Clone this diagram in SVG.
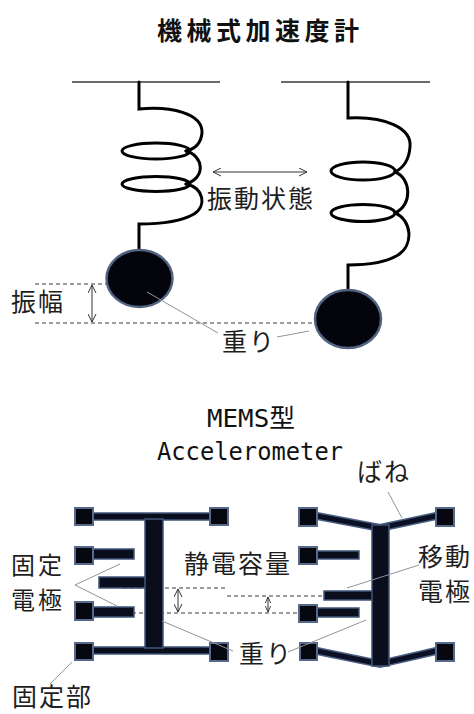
<svg xmlns="http://www.w3.org/2000/svg" width="474" height="714" viewBox="0 0 474 714">
  <style>
    .jp { font-family: "Noto Sans CJK JP", "Noto Sans CJK SC", sans-serif; fill: #1e1e1e; }
    .lbl { font-size: 25px; letter-spacing: 2px; }
    .lblSm { font-size: 24px; letter-spacing: 3px; }
    .title { font-size: 25px; font-weight: bold; letter-spacing: 4.5px; fill: #111; }
    .mono { font-family: "DejaVu Sans Mono", "Noto Sans CJK JP", monospace; font-size: 25px; fill: #111; }
    .ceiling { stroke: #3a3a3a; stroke-width: 1.3; fill: none; }
    .coil { stroke: #000; stroke-width: 3; fill: none; stroke-linecap: round; }
    .ball { fill: #04040c; stroke: #506482; stroke-width: 2.5; }
    .pad { fill: #07080f; stroke: #55698a; stroke-width: 2; }
    .beam { fill: #0a0d1c; stroke: #42567a; stroke-width: 1.5; }
    .armOuter { stroke: #4a5e82; stroke-width: 8; fill: none; stroke-linecap: butt; }
    .armInner { stroke: #0b1024; stroke-width: 5; fill: none; stroke-linecap: butt; }
    .leader { stroke: #8e949c; stroke-width: 1; fill: none; }
    .dash { stroke: #3a3a3a; stroke-width: 1; stroke-dasharray: 4 3; fill: none; }
    .dim { stroke: #333; stroke-width: 1; fill: none; }
  </style>
  <defs>
    <marker id="chevron" viewBox="0 0 10 10" refX="9" refY="5" markerWidth="9" markerHeight="9" markerUnits="userSpaceOnUse" orient="auto-start-reverse">
      <path d="M0,0.5 L9,5 L0,9.5" fill="none" stroke="#333" stroke-width="1.1"/>
    </marker>
    <marker id="chevronSmall" viewBox="0 0 10 10" refX="9" refY="5" markerWidth="7" markerHeight="7" markerUnits="userSpaceOnUse" orient="auto-start-reverse">
      <path d="M0,1 L9,5 L0,9" fill="none" stroke="#333" stroke-width="1.3"/>
    </marker>
  </defs>

  <rect width="474" height="714" fill="#fff"/>

  <!-- headings -->
  <g id="title-mechanical">
    <text class="jp title" x="157" y="40">機械式加速度計</text>
  </g>
  <g id="title-mems">
    <text class="mono" x="207" y="427" textLength="88" lengthAdjust="spacingAndGlyphs">MEMS型</text>
    <text class="mono" x="157" y="460" textLength="186" lengthAdjust="spacingAndGlyphs">Accelerometer</text>
  </g>

  <!-- dashed reference levels (drawn beneath the parts) -->
  <g id="guides">
    <line class="dash" x1="35" y1="284" x2="107" y2="284"/>
    <line class="dash" x1="35" y1="323" x2="317" y2="323"/>
    <line class="dash" x1="123" y1="588" x2="226" y2="588"/>
    <line class="dash" x1="227" y1="596" x2="322" y2="596"/>
    <line class="dash" x1="132" y1="613" x2="300" y2="613"/>
  </g>

  <!-- spring-mass pair, at rest -->
  <g id="spring-left">
    <line class="ceiling" x1="72" y1="82" x2="220" y2="82"/>
    <path class="coil" d="M139,82 V109 C170,106 203,113 202,133 C201,143 195,149 186,151"/>
    <ellipse class="coil" cx="156" cy="151" rx="34" ry="8"/>
    <path class="coil" d="M186,151 C204,156 206,178 186,184"/>
    <ellipse class="coil" cx="156" cy="184" rx="34" ry="7.5"/>
    <path class="coil" d="M186,184 C204,188 207,206 194,214 C182,221 160,224 139,224 V250"/>
  </g>
  <g id="mass-left">
    <ellipse class="ball" cx="139.5" cy="278.5" rx="33" ry="28.5"/>
  </g>

  <!-- spring-mass pair, displaced -->
  <g id="spring-right">
    <line class="ceiling" x1="281" y1="82" x2="430" y2="82"/>
    <path class="coil" d="M348,82 V118 C385,116 412,128 410,147 C409,160 403,168 395,172"/>
    <ellipse class="coil" cx="363" cy="171" rx="32" ry="9"/>
    <path class="coil" d="M395,172 C411,178 413,205 395,213"/>
    <ellipse class="coil" cx="363" cy="213" rx="32" ry="8.5"/>
    <path class="coil" d="M395,213 C412,220 414,245 398,255 C385,263 368,265 348,265 V290"/>
  </g>
  <g id="mass-right">
    <ellipse class="ball" cx="348" cy="319" rx="33" ry="29"/>
  </g>

  <!-- MEMS structure, at rest -->
  <g id="mems-left">
    <rect class="beam" x="92" y="513" width="119" height="7"/>
    <rect class="beam" x="92" y="647" width="119" height="7"/>
    <rect class="beam" x="93" y="549" width="41" height="10"/>
    <rect class="beam" x="93" y="607" width="41" height="10"/>
    <rect class="beam" x="99" y="577" width="47" height="11"/>
    <rect class="beam" x="145" y="519" width="18" height="129"/>
    <rect class="pad" x="75" y="508" width="18" height="17"/>
    <rect class="pad" x="210" y="508" width="18" height="17"/>
    <rect class="pad" x="75" y="547" width="18" height="17"/>
    <rect class="pad" x="75" y="602" width="18" height="18"/>
    <rect class="pad" x="75" y="643" width="18" height="17"/>
    <rect class="pad" x="210" y="643" width="18" height="18"/>
  </g>

  <!-- MEMS structure, deflected -->
  <g id="mems-right">
    <polyline class="armOuter" points="317,516 380,528 436,516"/>
    <polyline class="armInner" points="317,516 380,528 436,516"/>
    <polyline class="armOuter" points="317,651 380,664 436,651"/>
    <polyline class="armInner" points="317,651 380,664 436,651"/>
    <rect class="beam" x="317" y="551" width="42" height="8"/>
    <rect class="beam" x="317" y="608" width="42" height="9"/>
    <rect class="beam" x="324" y="591" width="49" height="9"/>
    <rect class="beam" x="372" y="525" width="17" height="141"/>
    <rect class="pad" x="299" y="508" width="18" height="18"/>
    <rect class="pad" x="436" y="508" width="18" height="18"/>
    <rect class="pad" x="299" y="547" width="18" height="17"/>
    <rect class="pad" x="299" y="605" width="18" height="17"/>
    <rect class="pad" x="300" y="643" width="17" height="17"/>
    <rect class="pad" x="436" y="643" width="18" height="18"/>
  </g>

  <!-- labels -->
  <g id="label-vibration"><text class="jp lbl" x="207" y="208">振動状態</text></g>
  <g id="label-amplitude"><text class="jp lbl" x="11" y="311">振幅</text></g>
  <g id="label-weight-top"><text class="jp lbl" x="222" y="351">重り</text></g>
  <g id="label-spring"><text class="jp lbl" x="357" y="481">ばね</text></g>
  <g id="label-fixed-electrode">
    <text class="jp lblSm" x="11" y="574">固定<tspan x="11" y="609">電極</tspan></text>
  </g>
  <g id="label-capacitance"><text class="jp lbl" x="184" y="573">静電容量</text></g>
  <g id="label-moving-electrode">
    <text class="jp lbl" x="418" y="566">移動<tspan x="418" y="601">電極</tspan></text>
  </g>
  <g id="label-weight-bottom"><text class="jp lbl" x="239" y="663">重り</text></g>
  <g id="label-anchor"><text class="jp lbl" x="12" y="706">固定部</text></g>

  <!-- leaders and dimension arrows -->
  <g id="connectors">
    <line class="dim" x1="213" y1="172" x2="307" y2="172" marker-start="url(#chevron)" marker-end="url(#chevron)"/>
    <line class="dim" x1="92" y1="285" x2="92" y2="322" marker-start="url(#chevron)" marker-end="url(#chevron)"/>
    <line class="dim" x1="178" y1="589" x2="178" y2="612" marker-start="url(#chevron)" marker-end="url(#chevron)"/>
    <line class="dim" x1="268" y1="597" x2="268" y2="612" marker-start="url(#chevronSmall)" marker-end="url(#chevronSmall)"/>

    <line class="leader" x1="147" y1="292" x2="218" y2="333"/>
    <line class="leader" x1="277" y1="337" x2="309" y2="331"/>
    <line class="leader" x1="75" y1="585" x2="120" y2="564"/>
    <line class="leader" x1="75" y1="585" x2="117" y2="606"/>
    <line class="leader" x1="72" y1="662" x2="50" y2="684"/>
    <line class="leader" x1="162" y1="621" x2="233" y2="651"/>
    <line class="leader" x1="288" y1="652" x2="366" y2="620"/>
    <line class="leader" x1="419" y1="565" x2="347" y2="588"/>
    <line class="leader" x1="388" y1="492" x2="402" y2="518"/>
  </g>
</svg>
